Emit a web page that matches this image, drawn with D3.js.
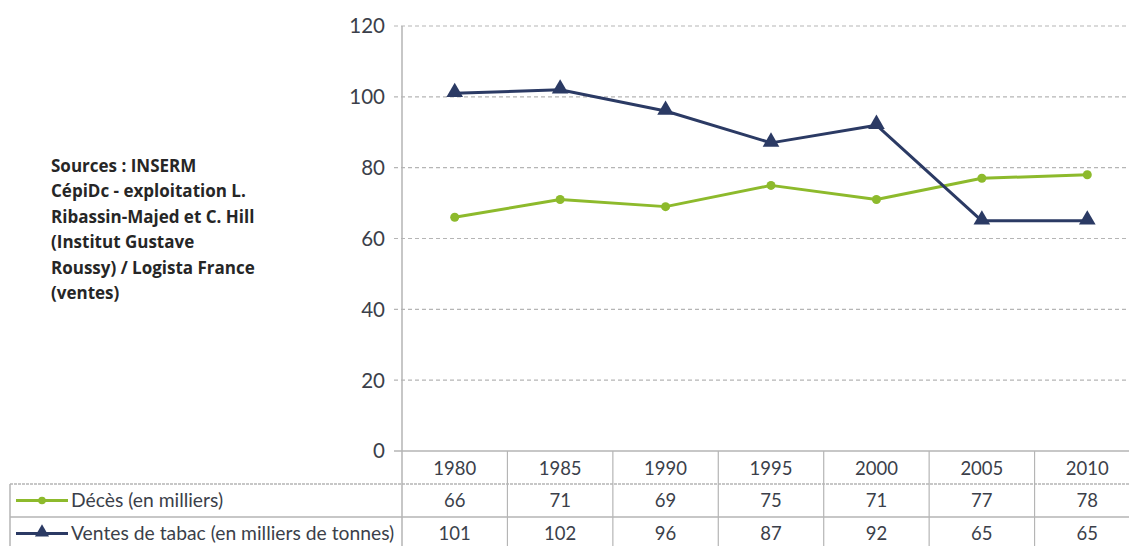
<!DOCTYPE html>
<html>
<head>
<meta charset="utf-8">
<script src="https://cdn.jsdelivr.net/npm/d3@7"></script>
<style>
  html, body { margin: 0; padding: 0; background: #fff; }
  svg { display: block; font-family: Lato, "Open Sans", sans-serif; }
</style>
</head>
<body>
<svg id="chart" width="1129" height="546"></svg>
<script>
// Years on the x axis / table header
const years = ["1980", "1985", "1990", "1995", "2000", "2005", "2010"];
// Deaths (thousands)
const deces = [66, 71, 69, 75, 71, 77, 78];
// Tobacco sales (thousands of tonnes)
const ventes = [101, 102, 96, 87, 92, 65, 65];
const yTicks = [0, 20, 40, 60, 80, 100, 120];
const seriesNames = ["Décès (en milliers)", "Ventes de tabac (en milliers de tonnes)"];
const sourceLines = [
  "Sources : INSERM",
  "CépiDc - exploitation L.",
  "Ribassin-Majed et C. Hill",
  "(Institut Gustave",
  "Roussy) / Logista France",
  "(ventes)"
];

const series = [
  { name: seriesNames[0], values: deces, color: "#8dba2c", marker: "circle" },
  { name: seriesNames[1], values: ventes, color: "#2b3a64", marker: "triangle" }
];

const svg = d3.select("#chart");
const plotLeft = 402, plotRight = 1140, plotTop = 26, plotBottom = 451;
const rowH = [451, 484, 517, 550];

const x = d3.scaleBand().domain(years).range([plotLeft, plotRight]);
const y = d3.scaleLinear().domain([0, 120]).range([plotBottom, plotTop]);
const cx = d => x(d) + x.bandwidth() / 2;

const gridColor = "#b5b5b5";
const textColor = "#3b3f4a";

// Horizontal gridlines
svg.append("g").selectAll("line")
  .data(yTicks.filter(t => t > 0))
  .join("line")
  .attr("x1", plotLeft - 8).attr("x2", 1129)
  .attr("y1", d => y(d)).attr("y2", d => y(d))
  .attr("stroke", gridColor).attr("stroke-width", 1.2)
  .attr("stroke-dasharray", "4,3");

// Y axis labels
svg.append("g").selectAll("text")
  .data(yTicks)
  .join("text")
  .attr("x", 385).attr("y", d => y(d))
  .attr("dy", "0.36em")
  .attr("text-anchor", "end")
  .attr("font-size", 20.5)
  .attr("fill", textColor)
  .text(d => d);

// Y axis line, continuing down through the table
svg.append("line")
  .attr("x1", plotLeft).attr("x2", plotLeft)
  .attr("y1", plotTop).attr("y2", 546)
  .attr("stroke", gridColor).attr("stroke-width", 1.5);

// Zero line / top of table
svg.append("line")
  .attr("x1", plotLeft - 8).attr("x2", 1129)
  .attr("y1", rowH[0]).attr("y2", rowH[0])
  .attr("stroke", gridColor).attr("stroke-width", 1.5);

// Table row separators
svg.append("line")
  .attr("x1", 10).attr("x2", 1129)
  .attr("y1", rowH[1]).attr("y2", rowH[1])
  .attr("stroke", gridColor).attr("stroke-width", 1.5)
  .attr("stroke-dasharray", "3,1");
svg.append("line")
  .attr("x1", 10).attr("x2", 1129)
  .attr("y1", rowH[2]).attr("y2", rowH[2])
  .attr("stroke", gridColor).attr("stroke-width", 1.5);
svg.append("line")
  .attr("x1", 10).attr("x2", 10)
  .attr("y1", rowH[1]).attr("y2", 546)
  .attr("stroke", gridColor).attr("stroke-width", 1.5);

// Column separators
svg.append("g").selectAll("line")
  .data(years.slice(1))
  .join("line")
  .attr("x1", d => x(d)).attr("x2", d => x(d))
  .attr("y1", rowH[0]).attr("y2", 546)
  .attr("stroke", gridColor).attr("stroke-width", 1.2);

// Year header
svg.append("g").selectAll("text")
  .data(years)
  .join("text")
  .attr("x", d => cx(d)).attr("y", (rowH[0] + rowH[1]) / 2 + 1)
  .attr("dy", "0.36em").attr("text-anchor", "middle")
  .attr("font-size", 18.5).attr("fill", textColor)
  .text(d => d);

// Value rows
series.forEach((s, i) => {
  const yMid = (rowH[i + 1] + rowH[i + 2]) / 2;
  svg.append("g").selectAll("text")
    .data(s.values)
    .join("text")
    .attr("x", (d, j) => cx(years[j])).attr("y", yMid)
    .attr("dy", "0.36em").attr("text-anchor", "middle")
    .attr("font-size", 18.5).attr("fill", textColor)
    .text(d => d);

  // Legend key in the row header
  svg.append("line")
    .attr("x1", 16).attr("x2", 68)
    .attr("y1", yMid).attr("y2", yMid)
    .attr("stroke", s.color).attr("stroke-width", 3);
  drawMarker(svg, s, 42, yMid, 0.85);
  svg.append("text")
    .attr("x", 71).attr("y", yMid)
    .attr("dy", "0.36em")
    .attr("font-size", 19.3).attr("fill", textColor)
    .text(s.name);
});

function drawMarker(g, s, px, py, k) {
  if (s.marker === "circle") {
    g.append("circle").attr("cx", px).attr("cy", py).attr("r", 4.5 * k)
      .attr("fill", s.color);
  } else {
    g.append("path")
      .attr("d", d3.symbol(d3.symbolTriangle, 120 * k * k)())
      .attr("transform", `translate(${px},${py - 1})`)
      .attr("fill", s.color);
  }
}

// Series lines and markers
const line = d3.line().x((d, i) => cx(years[i])).y(d => y(d));
series.forEach(s => {
  svg.append("path")
    .datum(s.values)
    .attr("d", line)
    .attr("fill", "none")
    .attr("stroke", s.color)
    .attr("stroke-width", 3)
    .attr("stroke-linejoin", "round");
  s.values.forEach((v, i) => drawMarker(svg, s, cx(years[i]), y(v), 1));
});

// Source note
svg.append("g").selectAll("text")
  .data(sourceLines)
  .join("text")
  .attr("x", 51).attr("y", (d, i) => 172 + i * 25.4)
  .attr("font-family", "'Open Sans', sans-serif")
  .attr("font-size", 17).attr("font-weight", "bold")
  .attr("fill", "#262626")
  .text(d => d);
</script>
</body>
</html>
